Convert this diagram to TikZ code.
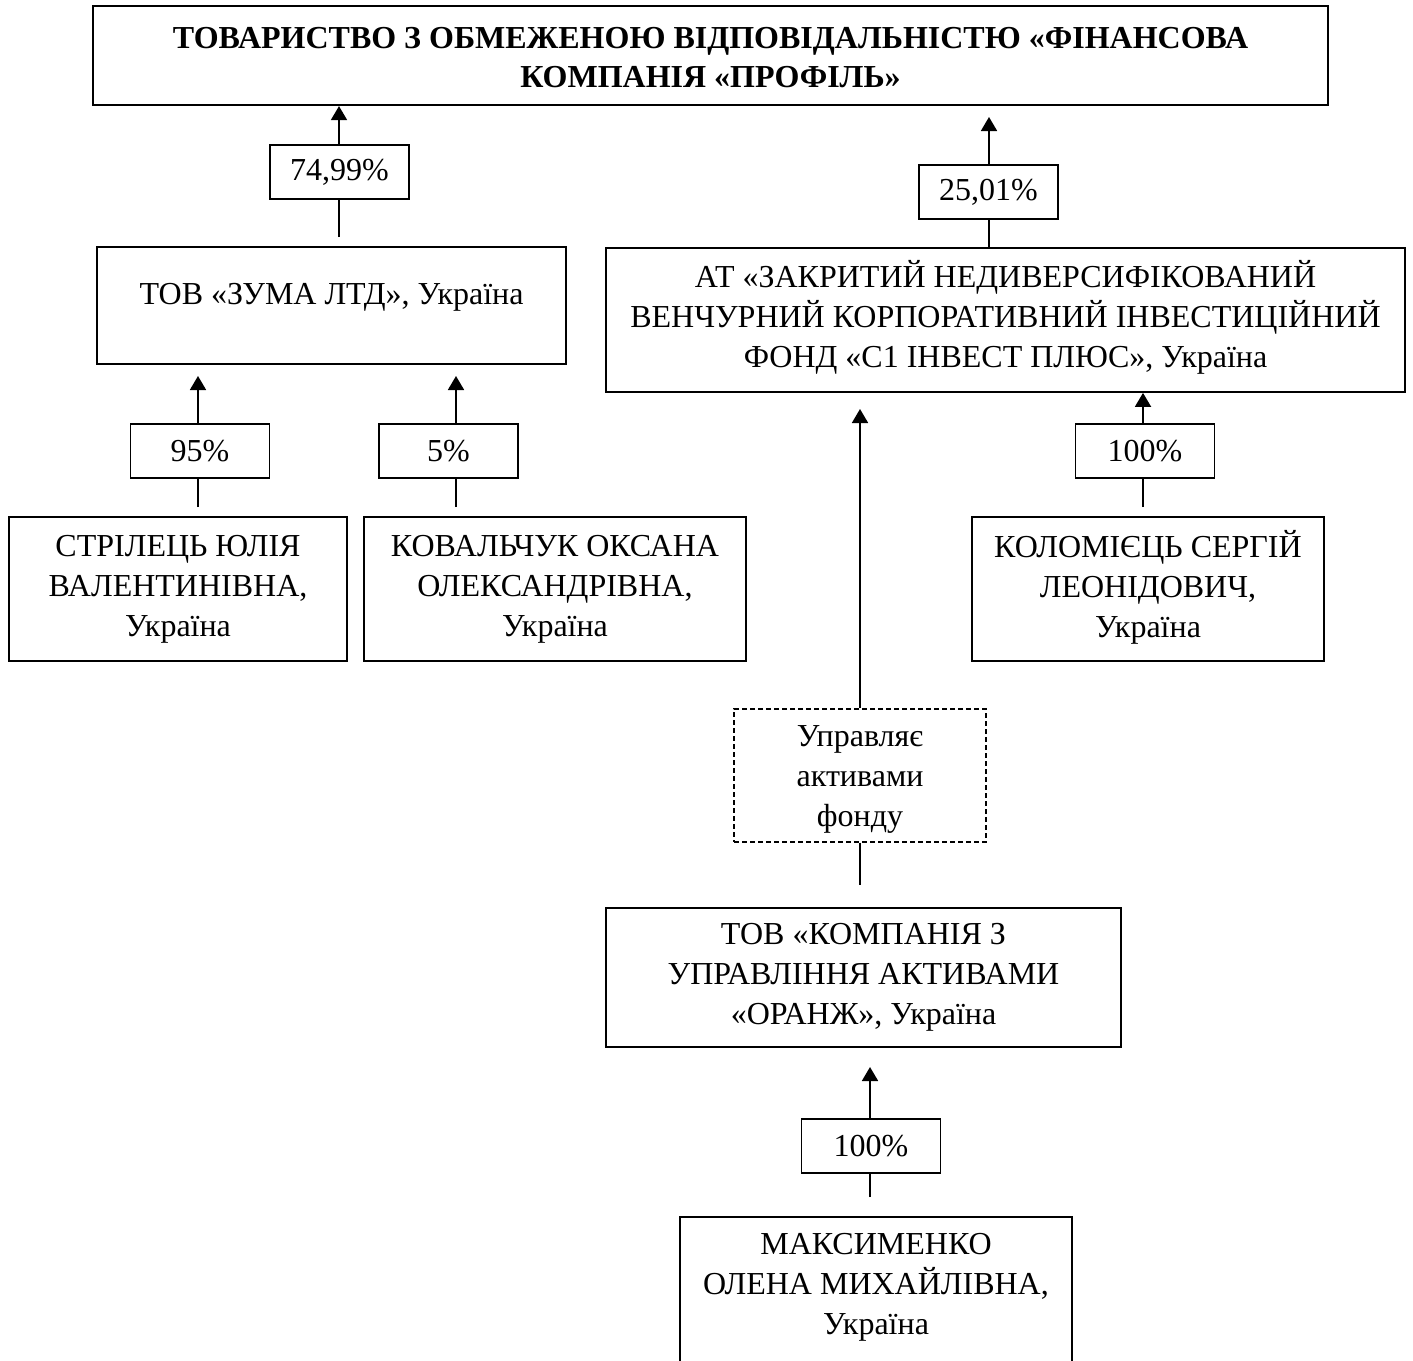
\documentclass[tikz,border=0pt]{standalone}
\usepackage{fontspec}
\setmainfont{Liberation Serif}
\usetikzlibrary{arrows.meta}
\begin{document}
\begin{tikzpicture}[x=0.5pt,y=-0.5pt,
  box/.style={draw, line width=0.9pt, inner sep=0pt, align=center, font=\fontsize{16}{20}\selectfont},
  txt/.style={inner sep=0pt, align=center, font=\fontsize{16}{20}\selectfont},
  pct/.style={box, minimum width=69.5pt, minimum height=27pt},
  link/.style={line width=0.9pt},
  arr/.style={line width=0.9pt, -{Triangle[width=8pt,length=7pt]}},
  dashbox/.style={box, line width=0.6pt, dash pattern=on 2.5pt off 1.5pt}]
\useasboundingbox (0,0) rectangle (1413,1360);
\clip (0,0) rectangle (1413,1360);

% boxes
\node[box, line width=1.1pt, minimum width=617.5pt, minimum height=49.5pt] (top) at (710.5,55.5) {};
\node[txt, font=\fontsize{16}{19.3}\selectfont\bfseries] (topT) at (710.5,57.5)
  {ТОВАРИСТВО З ОБМЕЖЕНОЮ ВІДПОВІДАЛЬНІСТЮ «ФІНАНСОВА\\КОМПАНІЯ «ПРОФІЛЬ»};
\node[pct] (l7499) at (339.5,172) {74,99\%};
\node[box, minimum width=234.5pt, minimum height=58.5pt] (zuma) at (331.5,305.5) {};
\node[txt] (zumaT) at (331.5,297) {ТОВ «ЗУМА ЛТД», Україна};
\node[pct] (l2501) at (988.5,192) {25,01\%};
\node[box, minimum width=399.5pt, minimum height=72pt] (fund) at (1005.5,320) {};
\node[txt] (fundT) at (1005.5,317)
  {АТ «ЗАКРИТИЙ НЕДИВЕРСИФІКОВАНИЙ\\ВЕНЧУРНИЙ КОРПОРАТИВНИЙ ІНВЕСТИЦІЙНИЙ\\ФОНД «С1 ІНВЕСТ ПЛЮС», Україна};
\node[pct] (l95) at (200,451) {95\%};
\node[pct] (l5) at (448.5,451) {5\%};
\node[pct] (l100a) at (1145,451) {100\%};
\node[box, minimum width=169pt, minimum height=72pt] (stri) at (178,589)
  {СТРІЛЕЦЬ ЮЛІЯ\\ВАЛЕНТИНІВНА,\\Україна};
\node[box, minimum width=191pt, minimum height=72pt] (kov) at (555,589)
  {КОВАЛЬЧУК ОКСАНА\\ОЛЕКСАНДРІВНА,\\Україна};
\node[box, minimum width=176pt, minimum height=72pt] (kol) at (1148,589) {};
\node[txt] (kolT) at (1148,587) {КОЛОМІЄЦЬ СЕРГІЙ\\ЛЕОНІДОВИЧ,\\Україна};
\node[dashbox, minimum width=126pt, minimum height=66.5pt] (dash) at (860,775.5) {};
\node[txt] (dashT) at (860,779) {Управляє\\активами\\фонду};
\node[box, minimum width=257.5pt, minimum height=69.5pt] (orange) at (863.5,977.5)
  {ТОВ «КОМПАНІЯ З\\УПРАВЛІННЯ АКТИВАМИ\\«ОРАНЖ», Україна};
\node[pct] (l100b) at (871,1146) {100\%};
\node[box, minimum width=196pt, minimum height=101.5pt] (maks) at (876,1318.5) {};
\node[txt] (maksT) at (876,1287) {МАКСИМЕНКО\\ОЛЕНА МИХАЙЛІВНА,\\Україна};

% connector coordinates (free ends)
\coordinate (aA) at (339,237);
\coordinate (aB) at (989,117);
\coordinate (aC1) at (198,507);
\coordinate (aC2) at (198,376);
\coordinate (aD1) at (456,507);
\coordinate (aD2) at (456,376);
\coordinate (aE) at (1143,507);
\coordinate (aF) at (860,409);
\coordinate (aG) at (860,885);
\coordinate (aH1) at (870,1197);
\coordinate (aH2) at (870,1067);

% connectors
\draw[link] (aA) -- (l7499.south -| aA);
\draw[arr] (l7499.north -| aA) -- (top.south -| aA);

\draw[link] (fund.north -| aB) -- (l2501.south -| aB);
\draw[arr] (l2501.north -| aB) -- (aB);

\draw[link] (aC1) -- (l95.south -| aC1);
\draw[arr] (l95.north -| aC1) -- (aC2);

\draw[link] (aD1) -- (l5.south -| aD1);
\draw[arr] (l5.north -| aD1) -- (aD2);

\draw[link] (aE) -- (l100a.south -| aE);
\draw[arr] (l100a.north -| aE) -- (fund.south -| aE);

\draw[arr] (dash.north) -- (aF);
\draw[link] (dash.south) -- (aG);

\draw[link] (aH1) -- (l100b.south -| aH1);
\draw[arr] (l100b.north -| aH1) -- (aH2);
\end{tikzpicture}
\end{document}
